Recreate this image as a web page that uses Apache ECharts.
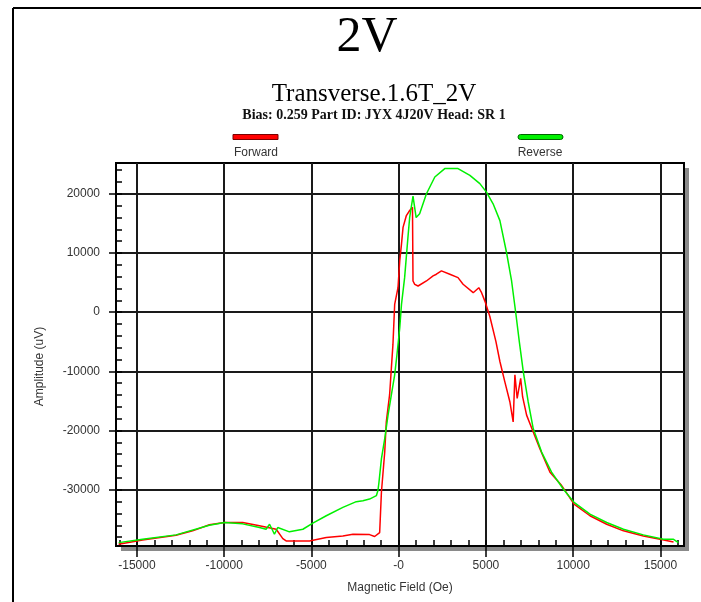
<!DOCTYPE html>
<html>
<head>
<meta charset="utf-8">
<script src="https://cdn.jsdelivr.net/npm/echarts@6/dist/echarts.min.js"></script>
<style>
  html, body { margin: 0; padding: 0; background: #fff; }
  #chart { width: 701px; height: 602px; }
</style>
</head>
<body>
<div id="chart"></div>
<script>
(function() {
  'use strict';

  var colorForward = '#ff0000';
  var colorReverse = '#00f000';
  var colorText = '#333333';
  var colorGrid = '#1a1a1a';
  var sansFont = 'Arial, "Liberation Sans", sans-serif';
  var serifFont = '"Times New Roman", "Liberation Serif", serif';

  // Forward sweep (Oe, uV)
  var forwardField = [-16050, -14680, -12760, -11810, -10850, -9990, -8940, -7980, -7020, -6640,
    -6450, -5110, -4150, -3200, -2620, -1670, -1380, -1090, -990, -800,
    -710, -520, -420, -330, -230, -40, 60, 160, 250, 440,
    630, 790, 820, 920, 1110, 1200, 1590, 1970, 2160, 2450,
    2930, 3400, 3690, 4270, 4590, 4750, 4940, 5220, 5570, 5800,
    6080, 6370, 6560, 6660, 6790, 6990, 7100, 7330, 7710, 8090,
    8670, 9340, 10050, 10960, 11920, 12880, 14020, 14980, 15750];
  var forwardAmp = [-39220, -38470, -37690, -36940, -35920, -35530, -35530, -36090, -36670, -38250,
    -38650, -38650, -38080, -37800, -37520, -37570, -37900, -37230, -30430, -23630,
    -18530, -13940, -9460, -5490, 1310, 4130, 8670, 11500, 14330, 16320,
    17170, 17730, 5270, 4710, 4420, 4250, 5270, 6120, 6410, 6970,
    6410, 5830, 4710, 3290, 4130, 3290, 1870, -680, -4930, -8330,
    -11730, -15130, -18530, -10590, -14570, -11170, -14280, -17390, -20230, -23070,
    -27030, -29290, -32420, -34390, -35820, -36940, -37800, -38370, -38820];

  // Reverse sweep (Oe, uV)
  var reverseField = [-16050, -14680, -12760, -10850, -9990, -8940, -7980, -7600, -7400, -7120,
    -6930, -6260, -5490, -4920, -4150, -3200, -2430, -2050, -1670, -1280,
    -1190, -1130, -990, -800, -610, -420, -230, -100, 60, 160,
    340, 530, 630, 820, 1000, 1200, 1590, 2070, 2640, 3400,
    4080, 4650, 5030, 5410, 5800, 6180, 6470, 6720, 6910, 7140,
    7420, 7710, 8190, 8760, 9430, 10050, 10960, 11920, 12880, 14020,
    15170, 15750, 16030];
  var reverseAmp = [-38930, -38370, -37620, -35990, -35530, -35760, -36380, -36670, -35820, -37520,
    -36380, -37110, -36670, -35650, -34390, -32980, -32010, -31840, -31570, -31000,
    -30140, -28730, -24770, -21370, -17390, -13990, -10590, -7190, -2670, 1310,
    5830, 12630, 16030, 19600, 15980, 16610, 20010, 22830, 24260, 24260,
    23120, 21710, 20280, 18310, 15470, 10080, 5270, -390, -4930, -10030,
    -15130, -19670, -23630, -27030, -29870, -32130, -34120, -35530, -36670, -37620,
    -38370, -38370, -38930];

  var xTicks = [-15000, -10000, -5000, 0, 5000, 10000, 15000];
  var yTicks = [-30000, -20000, -10000, 0, 10000, 20000];
  var xMin = -16200, xMax = 16350;
  var yMin = -39500, yMax = 25200;

  var xMinorTicks = [];
  for (var i = -16000; i <= 16000; i += 1000) xMinorTicks.push(i);
  var yMinorTicks = [];
  for (var j = -38000; j <= 24000; j += 2000) yMinorTicks.push(j);

  function zip(a, b) {
    return a.map(function(v, k) { return [v, b[k]]; });
  }

  var gridLeft = 116, gridRight = 17, gridTop = 163, gridBottom = 56;

  var chart = echarts.init(document.getElementById('chart'), null, { renderer: 'canvas' });

  chart.setOption({
    animation: false,
    backgroundColor: '#fff',
    title: [
      { text: '2V', left: 362, top: 8, textAlign: 'center',
        textStyle: { fontFamily: serifFont, fontSize: 50, fontWeight: 'normal', color: '#000' } },
      { text: 'Transverse.1.6T_2V', left: 369, top: 77, textAlign: 'center',
        textStyle: { fontFamily: serifFont, fontSize: 25, fontWeight: 'normal', color: '#000' } },
      { text: 'Bias: 0.259 Part ID: JYX 4J20V Head: SR 1', left: 369, top: 103, textAlign: 'center',
        textStyle: { fontFamily: serifFont, fontSize: 14, fontWeight: 'bold', color: '#111' } }
    ],
    grid: {
      left: gridLeft, right: gridRight, top: gridTop, bottom: gridBottom,
      show: true,
      backgroundColor: '#fff',
      borderColor: '#000',
      borderWidth: 2
    },
    xAxis: [
      {
        type: 'value', min: xMin, max: xMax, position: 'bottom',
        name: 'Magnetic Field (Oe)', nameLocation: 'middle', nameGap: 36,
        nameTextStyle: { fontFamily: sansFont, fontSize: 12, color: colorText },
        axisLine: { show: false, onZero: false },
        axisTick: { show: true, inside: false, length: 11, customValues: xTicks,
          lineStyle: { color: '#000', width: 1.5 } },
        axisLabel: { customValues: xTicks, margin: 14, fontFamily: sansFont, fontSize: 12, color: colorText,
          formatter: function(v) { return v === 0 ? '-0' : String(v); } },
        splitLine: { show: true, lineStyle: { color: colorGrid, width: 2 } }
      },
      {
        type: 'value', min: xMin, max: xMax, position: 'bottom',
        axisLine: { show: false, onZero: false },
        axisTick: { show: true, inside: true, length: 6, customValues: xMinorTicks,
          lineStyle: { color: '#000', width: 1.5 } },
        axisLabel: { show: false },
        splitLine: { show: false }
      }
    ],
    yAxis: [
      {
        type: 'value', min: yMin, max: yMax, position: 'left',
        name: 'Amplitude (uV)', nameLocation: 'middle', nameGap: 70,
        nameTextStyle: { fontFamily: sansFont, fontSize: 12, color: colorText, padding: [0, 24, 0, 0] },
        axisLine: { show: false, onZero: false },
        axisTick: { show: true, inside: false, length: 7, customValues: yTicks,
          lineStyle: { color: '#000', width: 1.5 } },
        axisLabel: { customValues: yTicks, margin: 16, fontFamily: sansFont, fontSize: 12, color: colorText,
          formatter: function(v) { return String(v); } },
        splitLine: { show: true, lineStyle: { color: colorGrid, width: 2 } }
      },
      {
        type: 'value', min: yMin, max: yMax, position: 'left',
        axisLine: { show: false, onZero: false },
        axisTick: { show: true, inside: true, length: 6, customValues: yMinorTicks,
          lineStyle: { color: '#000', width: 1.5 } },
        axisLabel: { show: false },
        splitLine: { show: false }
      }
    ],
    graphic: [
      // drop shadow behind the plot frame
      { type: 'rect', z: -10, silent: true,
        shape: { x: gridLeft + 5, y: gridTop + 5, width: 701 - gridLeft - gridRight, height: 602 - gridTop - gridBottom },
        style: { fill: '#8a8a8a' } },
      // outer frame (left and top edges)
      { type: 'line', shape: { x1: 13, y1: 8, x2: 13, y2: 602 }, style: { stroke: '#000', lineWidth: 2 } },
      { type: 'line', shape: { x1: 13, y1: 8, x2: 701, y2: 8 }, style: { stroke: '#000', lineWidth: 2 } },
      // legend
      { type: 'rect', shape: { x: 233, y: 134.5, width: 45, height: 5 },
        style: { fill: colorForward, stroke: '#7a0000', lineWidth: 1 } },
      { type: 'text', x: 256, y: 153, style: { text: 'Forward', fill: colorText, font: '12px ' + sansFont,
        textAlign: 'center', textVerticalAlign: 'middle' } },
      { type: 'rect', shape: { x: 518, y: 134.5, width: 45, height: 5, r: 2.5 },
        style: { fill: colorReverse, stroke: '#006400', lineWidth: 1 } },
      { type: 'text', x: 540, y: 153, style: { text: 'Reverse', fill: colorText, font: '12px ' + sansFont,
        textAlign: 'center', textVerticalAlign: 'middle' } }
    ],
    series: [
      {
        name: 'Forward', type: 'line', xAxisIndex: 0, yAxisIndex: 0,
        data: zip(forwardField, forwardAmp),
        showSymbol: false, symbol: 'none',
        lineStyle: { color: colorForward, width: 1.5 },
        z: 3
      },
      {
        name: 'Reverse', type: 'line', xAxisIndex: 0, yAxisIndex: 0,
        data: zip(reverseField, reverseAmp),
        showSymbol: false, symbol: 'none',
        lineStyle: { color: colorReverse, width: 1.5 },
        z: 4
      }
    ]
  });
})();
</script>
</body>
</html>
